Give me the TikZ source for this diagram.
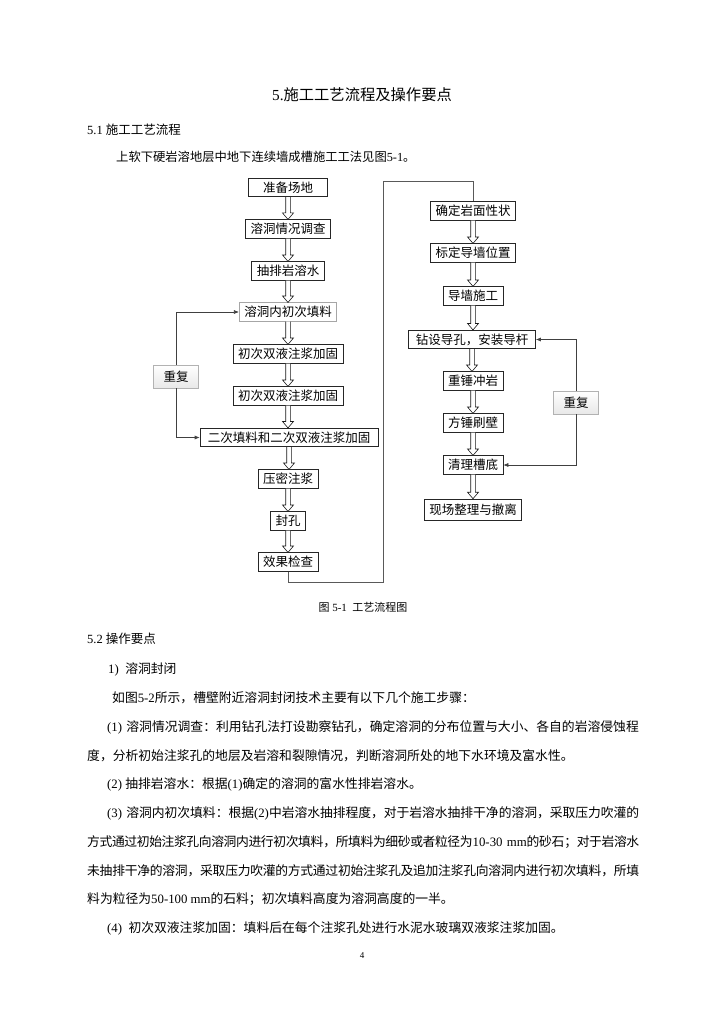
\documentclass[tikz,border=0pt]{standalone}
\usepackage{fontspec}
\setmainfont{Liberation Serif}
\newfontfamily\cjk{Noto Sans CJK SC}
\usetikzlibrary{arrows.meta,calc,shadings}

\XeTeXlinebreaklocale "zh"
\XeTeXlinebreakskip=0pt plus 1pt minus 1pt

\newcommand\zh[1]{{\cjk #1}}
\newcommand\bodyfont{\fontsize{12.5}{15}\selectfont}
\newcommand\parafont{\fontsize{12.8}{15}\selectfont}
% hollow double-line arrow between two stacked boxes
\newcommand\harrow[2]{%
  \draw[hollow] let \p1=(#1.south), \p2=(#2.north) in
    ({\x1-2.3pt},\y1) -- ({\x1-2.3pt},{\y2+6.5pt}) -- ({\x1-5.5pt},{\y2+6.5pt})
    -- (\x1,\y2) -- ({\x1+5.5pt},{\y2+6.5pt}) -- ({\x1+2.3pt},{\y2+6.5pt})
    -- ({\x1+2.3pt},\y1);}

\begin{document}
\begin{tikzpicture}[
    x=1pt, y=-1pt,
    font=\bodyfont,
    txt/.style={anchor=west, inner sep=0pt, font=\parafont},
    jtxt/.style={txt, text width=552pt,
        execute at begin node={\parindent=0pt\parfillskip=0pt\relax}},
    proc/.style={draw=black!85, line width=0.6pt, fill=white, inner xsep=5pt,
        inner ysep=0pt, minimum height=18.5pt, font=\bodyfont\cjk},
    rep/.style={draw=gray!60, line width=0.6pt, top color=white, bottom color=gray!18,
        minimum width=45pt, minimum height=23pt, inner sep=0pt, font=\bodyfont\cjk},
    hollow/.style={draw=black!90, line width=0.6pt, fill=white},
    link/.style={draw=black!65, line width=0.6pt},
    back/.style={draw=black!75, line width=0.6pt, -{Latex[length=5pt,width=4pt]}},
]

% page
\fill[white] (0,0) rectangle (724,1024);
\useasboundingbox (0,0) rectangle (724,1024);

% --- Headings ---
\node[font=\fontsize{15.3}{18}\selectfont] (title) at (362,95) {5.\zh{施工工艺流程及操作要点}};
\node[txt, font=\bodyfont] (sec1) at (87,130) {5.1 \zh{施工工艺流程}};
\node[txt, font=\fontsize{12.3}{15}\selectfont] (intro) at (116,157) {\zh{上软下硬岩溶地层中地下连续墙成槽施工工法见图}5-1\zh{。}};

% --- Left column ---
\node[proc, minimum width=79pt] (prep) at (288,187.5) {准备场地};
\node[proc] (survey) at (288,229) {溶洞情况调查};
\node[proc] (pump) at (288,271) {抽排岩溶水};
\node[proc, draw=gray!70] (fillA) at (288,312) {溶洞内初次填料};
\node[proc] (groutA) at (288,354) {初次双液注浆加固};
\node[proc] (groutB) at (288,396) {初次双液注浆加固};
\node[proc, minimum width=178pt] (fillB) at (289,437.5) {二次填料和二次双液注浆加固};
\node[proc] (press) at (288,479) {压密注浆};
\node[proc] (seal) at (288,521) {封孔};
\node[proc] (check) at (288,562) {效果检查};
\node[rep] (repL) at (176,376.5) {重复};

\foreach \a/\b in {prep/survey, survey/pump, pump/fillA, fillA/groutA,
    groutA/groutB, groutB/fillB, fillB/press, press/seal, seal/check}
    \harrow{\a}{\b};

\draw[back] (repL.north) |- (fillA.west);
\draw[back] (repL.south) |- (fillB.west);

% --- Right column ---
\node[proc] (rock) at (473,211) {确定岩面性状};
\node[proc] (mark) at (473,253) {标定导墙位置};
\node[proc] (wall) at (473,296) {导墙施工};
\node[proc, minimum width=127pt] (drill) at (472,339.5) {钻设导孔，安装导杆};
\node[proc] (hammer) at (473,381) {重锤冲岩};
\node[proc] (brush) at (473,423) {方锤刷壁};
\node[proc] (clean) at (473,465) {清理槽底};
\node[proc, minimum height=21pt, minimum width=95pt] (leave) at (473,509.5) {现场整理与撤离};
\node[rep] (repR) at (576,402.5) {重复};

\foreach \a/\b in {rock/mark, mark/wall, wall/drill, drill/hammer,
    hammer/brush, brush/clean, clean/leave}
    \harrow{\a}{\b};

\draw[back] (repR.north) |- (drill.east);
\draw[back] (repR.south) |- (clean.east);

% link between the two columns
\coordinate (turnA) at (383,582);
\coordinate (turnB) at (383,181);
\draw[link] (check.south) |- (turnA) -- (turnB) -| (rock.north);

\node[font=\fontsize{11}{13}\selectfont] (cap) at (363,607) {\zh{图} 5-1\ \ \zh{工艺流程图}};

% --- Section 5.2 ---
\node[txt, font=\bodyfont] (sec2) at (87,639) {5.2 \zh{操作要点}};
\node[txt] (item1) at (108,669) {1)\ \ \zh{溶洞封闭}};
\node[txt] (intro2) at (112,698) {\zh{如图}5-2\zh{所示，槽壁附近溶洞封闭技术主要有以下几个施工步骤：}};

\node[jtxt] (p1) at (87,727) {\hspace*{20pt}(1) \zh{溶洞情况调查：利用钻孔法打设勘察钻孔，确定溶洞的分布位置与大小、各自的岩溶侵蚀程}};
\node[txt] (p2) at (87,755.7) {\zh{度，分析初始注浆孔的地层及岩溶和裂隙情况，判断溶洞所处的地下水环境及富水性。}};
\node[txt] (p3) at (107,784.4) {(2) \zh{抽排岩溶水：根据}(1)\zh{确定的溶洞的富水性排岩溶水。}};
\node[jtxt] (p4) at (87,813) {\hspace*{20pt}(3) \zh{溶洞内初次填料：根据}(2)\zh{中岩溶水抽排程度，对于岩溶水抽排干净的溶洞，采取压力吹灌的}};
\node[jtxt] (p5) at (87,841.8) {\zh{方式通过初始注浆孔向溶洞内进行初次填料，所填料为细砂或者粒径为}10-30 mm\zh{的砂石；对于岩溶水}};
\node[jtxt] (p6) at (87,870.5) {\zh{未抽排干净的溶洞，采取压力吹灌的方式通过初始注浆孔及追加注浆孔向溶洞内进行初次填料，所填}};
\node[txt] (p7) at (87,899) {\zh{料为粒径为}50-100 mm\zh{的石料；初次填料高度为溶洞高度的一半。}};
\node[txt] (p8) at (107,928) {(4)\ \ \zh{初次双液注浆加固：填料后在每个注浆孔处进行水泥水玻璃双液浆注浆加固。}};

\node[font=\fontsize{9}{11}\selectfont] (pageno) at (362,956) {4};

\end{tikzpicture}
\end{document}
